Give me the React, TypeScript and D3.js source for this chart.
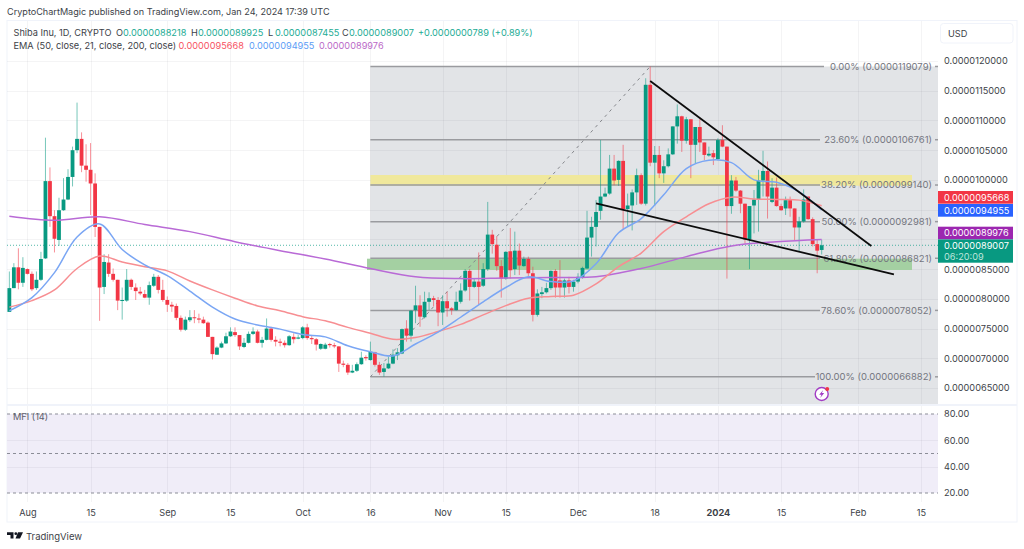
import React, { useEffect, useRef } from "react";
import * as d3 from "d3";

// prices are in units of 0.0000001
const opens = [
  77.8,81.8,85.3,82.7,85.0,84.2,81.8,83.2,86.8,99.8,
  93.9,89.9,94.9,96.7,100.5,105.0,106.9,102.4,101.7,99.4,
  92.1,82.0,86.1,84.2,83.2,79.7,79.7,83.2,81.9,81.2,
  80.8,80.2,82.2,83.7,81.5,79.8,79.0,78.8,76.8,74.8,
  76.4,76.9,76.7,76.5,76.0,73.6,70.6,71.8,72.5,73.7,
  74.4,73.9,71.9,72.6,74.1,74.5,72.6,73.1,75.0,73.1,
  72.8,72.6,72.2,73.6,73.3,73.4,75.2,73.4,73.2,71.6,
  71.6,72.4,72.2,72.0,69.1,68.9,67.6,67.9,69.0,70.2,
  69.7,71.0,68.9,67.7,68.3,69.1,70.5,70.8,75.0,73.8,
  78.1,78.9,76.9,79.5,80.1,79.8,77.7,79.6,78.4,78.1,
  79.5,81.4,84.7,82.0,82.9,82.2,85.0,90.8,89.1,85.5,
  83.4,88.0,85.0,88.1,85.5,86.7,84.3,77.3,80.8,81.1,
  81.8,84.7,83.1,81.9,83.1,82.0,82.9,83.6,85.1,90.3,
  92.1,94.8,97.2,97.7,101.9,100.0,103.2,95.1,95.7,97.9,
  100.8,96.0,116.0,102.9,104.2,101.1,102.3,104.3,109.0,110.7,
  106.6,110.2,105.9,108.9,106.3,104.1,104.5,103.5,106.7,105.6,
  95.6,99.9,98.2,96.0,90.0,95.7,96.7,99.9,101.5,96.3,
  98.7,95.6,95.2,96.6,95.2,92.0,93.0,97.2,93.4,89.2,88.218,
];
const highs = [
  84.6,86.0,88.5,87.0,85.1,84.6,84.6,87.9,107.1,102.1,
  94.9,97.0,100.3,101.8,105.6,113.0,108.0,106.0,106.2,101.1,
  92.1,87.5,87.5,85.1,83.2,81.9,85.0,83.4,82.6,82.0,
  81.5,82.9,84.2,84.0,83.2,80.4,79.5,79.2,77.2,77.0,
  78.1,78.1,77.5,77.0,76.2,73.6,72.0,72.8,74.3,75.2,
  75.2,73.9,73.4,74.5,75.2,74.8,73.6,76.7,75.3,73.7,
  73.3,73.0,73.9,74.2,73.9,75.4,75.8,73.9,73.4,72.5,
  72.6,72.6,72.6,72.0,69.6,69.2,68.9,69.3,71.1,70.5,
  72.8,71.1,69.4,69.2,70.3,71.5,71.7,75.0,76.4,78.1,
  82.2,80.6,81.2,81.1,80.5,80.3,80.6,81.2,78.6,81.2,
  82.6,85.0,85.0,83.4,87.8,86.0,96.3,91.6,90.5,86.5,
  88.0,91.9,91.3,89.3,87.1,87.1,85.4,81.6,82.0,82.7,
  84.8,85.0,86.5,83.4,83.7,83.2,84.3,85.4,94.8,93.8,
  96.6,106.7,98.7,104.2,104.2,103.3,105.9,97.7,98.4,101.9,
  101.1,117.1,119.08,105.7,105.7,103.3,105.3,109.0,112.7,110.8,
  110.6,110.2,108.9,110.3,106.3,105.6,105.0,107.0,109.2,105.6,
  100.8,100.5,98.3,96.0,95.6,98.3,101.7,104.9,103.1,100.3,
  100.4,96.0,97.2,97.2,95.2,93.8,98.4,97.2,93.7,90.0,89.925,
];
const lows = [
  77.8,81.8,81.6,82.0,84.1,81.3,81.5,83.0,86.7,92.1,
  87.8,88.9,94.8,96.6,98.9,104.5,101.3,99.7,94.1,90.4,
  76.3,80.8,83.7,82.9,78.1,76.5,79.5,81.5,79.8,80.6,
  80.1,79.0,82.0,80.9,79.5,77.8,77.8,76.4,74.5,74.6,
  76.1,75.9,75.9,75.8,73.6,69.8,70.6,71.7,72.4,73.6,
  73.6,71.4,71.7,72.5,73.9,72.5,71.8,73.0,72.8,72.0,
  72.0,71.8,72.1,72.5,73.2,73.2,73.1,72.4,71.3,71.4,
  71.5,71.8,71.7,67.7,68.5,67.2,67.5,67.7,68.9,69.6,
  69.6,68.6,67.2,66.9,68.2,69.0,69.7,70.7,72.8,72.8,
  75.9,75.3,76.7,78.1,78.7,75.4,75.6,77.0,77.3,78.0,
  79.2,81.2,79.7,81.8,79.0,82.0,84.7,87.6,84.7,80.2,
  83.2,83.4,84.0,84.0,85.4,83.7,76.2,77.0,80.1,80.9,
  81.5,80.2,80.2,80.2,80.9,81.2,82.6,83.4,85.0,87.1,
  88.8,93.3,97.1,97.5,99.1,99.0,91.7,92.1,91.5,95.8,
  95.8,95.7,102.3,95.7,100.3,99.5,102.1,104.2,106.1,104.7,
  106.1,100.3,102.8,104.7,103.3,103.9,102.5,103.3,105.5,83.4,
  94.3,98.0,94.4,89.3,85.0,91.0,91.3,97.2,93.5,96.1,
  95.5,94.8,94.1,93.8,89.9,87.9,92.8,93.3,88.8,84.3,87.455,
];
const closes = [
  81.8,85.3,82.7,85.2,84.2,81.6,83.2,86.7,99.8,93.9,
  90.1,94.9,96.7,100.5,105.0,106.9,102.4,101.7,99.4,92.1,
  81.9,86.2,84.2,83.2,79.7,79.8,83.2,82.0,81.3,80.9,
  80.2,82.3,83.7,81.5,79.8,79.0,78.7,76.8,74.8,76.5,
  76.9,76.8,76.5,75.9,73.6,70.7,71.8,72.5,73.7,74.5,
  73.9,72.0,72.6,74.1,74.5,72.6,73.1,75.0,73.1,72.8,
  72.6,72.2,73.7,73.2,73.5,75.2,73.4,73.2,72.3,72.4,
  72.3,72.2,72.0,69.1,68.9,67.6,67.9,69.0,70.1,70.0,
  71.1,68.9,67.6,68.3,69.1,70.6,71.0,74.9,73.8,78.0,
  78.9,77.0,79.5,80.1,79.8,77.7,79.6,78.4,78.1,79.5,
  81.4,84.7,82.0,82.9,82.0,85.0,90.8,89.2,85.5,83.4,
  87.9,84.8,88.1,85.6,86.7,84.3,77.3,80.9,81.1,81.8,
  84.7,81.9,81.9,83.1,82.0,82.9,83.7,85.2,90.3,92.1,
  94.6,97.2,97.7,101.9,99.9,103.2,95.1,95.7,97.9,100.8,
  96.0,116.0,102.9,104.2,101.1,102.3,104.3,109.0,110.7,106.6,
  110.2,105.9,108.9,106.3,104.2,104.4,103.8,106.7,105.6,95.6,
  99.9,98.2,96.0,90.0,95.6,96.7,99.9,101.5,97.2,98.7,
  95.6,94.9,96.6,95.2,92.0,93.0,96.7,93.4,89.2,88.1,89.007,
];

const ema50 = [78.6,79.7,81.5,85.1,87.2,86.2,85.4,84.7,83.0,81.5,80.1,78.8,78.0,77.0,76.3,75.2,74.2,73.2,73.5,74.5,75.7,77.3,78.85,80.1,80.4,80.6,82.5,85.4,87.7,91.3,93.8,96.0,97.1,96.8,96.7,96.6,95.668];
const ema21 = [78.0,80.2,84.4,90.4,92.6,88.3,85.7,83.9,81.3,78.6,76.6,75.6,74.9,74.0,73.6,72.1,71.1,70.4,72.4,74.4,76.9,79.5,81.9,83.7,82.9,83.0,85.9,91.1,93.5,97.5,101.9,103.3,102.9,100.0,99.6,98.0,94.955];
const ema200 = [93.9,93.2,93.8,92.5,91.3,89.6,88.1,86.7,85.1,83.7,83.4,83.5,83.6,83.7,85.1,87.1,88.9,89.6,89.976];

const gridPrices = [120, 115, 110, 105, 100, 95, 90, 85, 80, 75, 70, 65];
const priceTicks = [120, 115, 110, 105, 100, 85, 80, 75, 70, 65];
const mfiTicks = [80, 60, 40, 20];
const mfiDashed = [80, 50, 20];

const timeTicks = [
  "2023-08-01", "2023-08-15", "2023-09-01", "2023-09-15", "2023-10-01", "2023-10-16", "2023-11-01",
  "2023-11-15", "2023-12-01", "2023-12-18", "2024-01-01", "2024-01-15", "2024-02-01", "2024-02-15",
].map((d) => new Date(d + "T00:00:00Z"));
const timeLabels = ["Aug", "15", "Sep", "15", "Oct", "16", "Nov", "15", "Dec", "18", "2024", "15", "Feb", "15"];

const fibPct = ["0.00%", "23.60%", "38.20%", "50.00%", "61.80%", "78.60%", "100.00%"];
const fibPrice = [119.079, 106.761, 99.14, 92.981, 86.821, 78.052, 66.882];
const fibLabelPrice = ["0.0000119079", "0.0000106761", "0.0000099140", "0.0000092981", "0.0000086821", "0.0000078052", "0.0000066882"];

const legendOhlc = [
  ["O", "0.0000088218"],
  ["H", "0.0000089925"],
  ["L", "0.0000087455"],
  ["C", "0.0000089007"],
];

const FONT = "Inter, 'Liberation Sans', sans-serif";
const GREEN = "#089981";
const RED = "#f23645";
const TEXT = "#3d3f48";
const SMALL = 9.2;

export default function App() {
  const svgRef = useRef<SVGSVGElement>(null);

  useEffect(() => {
    const svg = d3.select(svgRef.current).attr("width", 1024).attr("height", 549);
    svg.selectAll("*").remove();
    svg.style("position", "absolute").style("left", 0).style("top", 0).style("font-family", FONT);

    const left = 7;
    const plotRight = 938;
    const frameRight = 1017;

    const firstDay = new Date("2023-07-28T00:00:00Z");
    const lastDay = new Date("2024-01-24T00:00:00Z");
    const x = d3.scaleUtc().domain([firstDay, lastDay]).range([9.35, 821.7]);
    const y = d3.scaleLinear().domain([120, 65]).range([61, 388]);
    const yMfi = d3.scaleLinear().domain([80, 20]).range([414, 493]);
    const day = (i: number) => d3.utcDay.offset(firstDay, i);

    const candles = opens.map((o, i) => ({ date: day(i), o, h: highs[i], l: lows[i], c: closes[i] }));

    svg.append("rect").attr("width", 1024).attr("height", 549).attr("fill", "#fff");

    // frame
    svg.append("rect").attr("x", left).attr("y", 20.5).attr("width", frameRight - left).attr("height", 501.5)
      .attr("fill", "none").attr("stroke", "#f0f3fa");

    // fib background
    svg.append("rect").attr("x", x(day(80))).attr("y", y(119.079)).attr("width", plotRight - x(day(80)))
      .attr("height", 404 - y(119.079)).attr("fill", "#e2e4e7");

    // MFI band
    svg.append("rect").attr("x", left).attr("y", yMfi(80)).attr("width", plotRight - left)
      .attr("height", yMfi(20) - yMfi(80)).attr("fill", "#f0edf8");

    // grid
    const grid = svg.append("g").attr("stroke", "rgba(42,46,57,0.05)").attr("stroke-width", 1);
    grid.selectAll("line.t").data(timeTicks).join("line")
      .attr("x1", (d) => Math.round(x(d)) + 0.5).attr("x2", (d) => Math.round(x(d)) + 0.5)
      .attr("y1", 21).attr("y2", 502);
    grid.selectAll("line.p").data(gridPrices).join("line")
      .attr("x1", left).attr("x2", plotRight)
      .attr("y1", (d) => Math.round(y(d)) + 0.5).attr("y2", (d) => Math.round(y(d)) + 0.5);
    grid.selectAll("line.m").data([60, 40]).join("line")
      .attr("x1", left).attr("x2", plotRight)
      .attr("y1", (d) => Math.round(yMfi(d)) + 0.5).attr("y2", (d) => Math.round(yMfi(d)) + 0.5);

    // pane separator
    svg.append("rect").attr("x", left).attr("y", 404).attr("width", frameRight - left).attr("height", 2).attr("fill", "#f0f3fa");

    // MFI levels
    svg.append("g").selectAll("line").data(mfiDashed).join("line")
      .attr("x1", left).attr("x2", plotRight)
      .attr("y1", (d) => yMfi(d)).attr("y2", (d) => yMfi(d))
      .attr("stroke", "#8b8d97").attr("stroke-width", 1).attr("stroke-dasharray", "3 3");
    svg.append("text").attr("x", 13).attr("y", 420).attr("font-size", SMALL).attr("fill", "#5d606b").text("MFI (14)");

    // zones
    svg.append("rect").attr("x", x(day(80))).attr("y", 175).attr("width", 912 - x(day(80))).attr("height", 10.7).attr("fill", "#f0e89c");
    svg.append("rect").attr("x", 367).attr("y", 258.7).attr("width", 912 - 367).attr("height", 11.3).attr("fill", "#a4d0a2");

    // fib lines and labels
    const labelEnd = 932;
    const fibGroup = svg.append("g");
    const fibRows = fibPct.map((pct, i) => ({ pct, price: fibPrice[i], label: `${pct} (${fibLabelPrice[i]})` }));
    fibGroup.selectAll("line.a").data(fibRows).join("line")
      .attr("x1", x(day(80))).attr("x2", (d) => (d.pct === "0.00%" ? 824 : d.pct === "100.00%" ? 815 : 820))
      .attr("y1", (d) => y(d.price)).attr("y2", (d) => y(d.price))
      .attr("stroke", "#9a9b9f").attr("stroke-width", 1.5);
    fibGroup.selectAll("line.b").data(fibRows).join("line")
      .attr("x1", 935).attr("x2", plotRight)
      .attr("y1", (d) => y(d.price)).attr("y2", (d) => y(d.price))
      .attr("stroke", "#9a9b9f").attr("stroke-width", 1.5);
    fibGroup.selectAll("text").data(fibRows).join("text")
      .attr("x", labelEnd).attr("y", (d) => y(d.price) + 3.4).attr("text-anchor", "end")
      .attr("font-size", 9.5).attr("fill", "#74767f").text((d) => d.label);
    svg.append("line")
      .attr("x1", x(day(80))).attr("y1", y(66.882)).attr("x2", x(day(142))).attr("y2", y(119.079))
      .attr("stroke", "#85878c").attr("stroke-width", 1).attr("stroke-dasharray", "3 4");

    // last price line
    svg.append("line").attr("x1", left).attr("x2", plotRight).attr("y1", y(89.007)).attr("y2", y(89.007))
      .attr("stroke", GREEN).attr("stroke-opacity", 0.7).attr("stroke-dasharray", "1 2");

    // candles
    const bars = svg.append("g").selectAll("g").data(candles).join("g");
    bars.append("line")
      .attr("x1", (d) => x(d.date)).attr("x2", (d) => x(d.date))
      .attr("y1", (d) => y(d.h)).attr("y2", (d) => y(d.l))
      .attr("stroke", (d) => (d.c >= d.o ? GREEN : RED)).attr("stroke-opacity", 0.55).attr("stroke-width", 1);
    bars.append("rect")
      .attr("x", (d) => x(d.date) - 1.9).attr("width", 3.8)
      .attr("y", (d) => y(Math.max(d.o, d.c)))
      .attr("height", (d) => Math.max(1, Math.abs(y(d.o) - y(d.c))))
      .attr("fill", (d) => (d.c >= d.o ? GREEN : RED));

    // EMAs
    const emaLine = (vals: number[], step: number) =>
      d3.line<number>().x((_, i) => x(day(i * step))).y((d) => y(d)).curve(d3.curveCatmullRom.alpha(0.5))(vals);
    const drawEma = (vals: number[], step: number, color: string) =>
      svg.append("path").attr("d", emaLine(vals, step)).attr("fill", "none")
        .attr("stroke", color).attr("stroke-width", 1.5);
    drawEma(ema200, 10, "#b96ad6");
    drawEma(ema50, 5, "#f78e92");
    drawEma(ema21, 5, "#7aa6f4");

    // trend lines
    const trend = [
      [day(142), 116.64, day(191), 88.9],
      [day(130), 96.07, day(196), 84.12],
    ] as [Date, number, Date, number][];
    svg.append("g").selectAll("line").data(trend).join("line")
      .attr("x1", (d) => x(d[0])).attr("y1", (d) => y(d[1]))
      .attr("x2", (d) => x(d[2])).attr("y2", (d) => y(d[3]))
      .attr("stroke", "#0c0c0c").attr("stroke-width", 1.8);

    // bolt icon
    const bolt = svg.append("g").attr("transform", `translate(${x(day(180))},394)`);
    bolt.append("circle").attr("r", 6.5).attr("fill", "#fff").attr("stroke", "#a23cc4").attr("stroke-width", 1.4);
    bolt.append("path").attr("d", "M1.5,-4 L-2.5,0.8 L-0.2,0.8 L-1.5,4 L2.5,-1 L0.2,-1 Z").attr("fill", "#a23cc4");
    bolt.append("circle").attr("cx", 5.5).attr("cy", -5).attr("r", 2).attr("fill", RED);

    // price axis
    const priceAxis = d3.axisRight(y).tickValues(priceTicks).tickSize(0).tickPadding(0)
      .tickFormat((d) => (+d / 1e7).toFixed(10));
    const pa = svg.append("g").attr("transform", "translate(944,0)").call(priceAxis);
    pa.select(".domain").remove();
    pa.selectAll("text").attr("font-size", SMALL).attr("font-family", FONT).attr("fill", TEXT);

    const mfiAxis = d3.axisRight(yMfi).tickValues(mfiTicks).tickSize(0).tickPadding(0)
      .tickFormat((d) => (+d).toFixed(2));
    const ma = svg.append("g").attr("transform", "translate(944,0)").call(mfiAxis);
    ma.select(".domain").remove();
    ma.selectAll("text").attr("font-size", SMALL).attr("font-family", FONT).attr("fill", TEXT);

    // price tags (stacked the way the platform pushes them apart)
    const tags = [
      { label: "0.0000095668", color: "#f23645", top: 191, h: 12.7 },
      { label: "0.0000094955", color: "#2962ff", top: 204, h: 12.7 },
      { label: "0.0000089976", color: "#9c27b0", top: 226.7, h: 12.7 },
      { label: "0.0000089007", color: "#089981", top: 239.4, h: 23.3 },
    ];
    svg.append("g").selectAll("rect").data(tags).join("rect")
      .attr("x", plotRight).attr("y", (d) => d.top).attr("width", 75).attr("height", (d) => d.h).attr("fill", (d) => d.color);
    svg.append("g").selectAll("text").data(tags).join("text")
      .attr("x", 944).attr("y", (d) => d.top + 9.7).attr("font-size", SMALL).attr("fill", "#fff").text((d) => d.label);
    svg.append("text").attr("x", 944).attr("y", 259.5).attr("font-size", SMALL).attr("fill", "#bfe6dc").text("06:20:09");

    // USD button
    svg.append("rect").attr("x", 940.5).attr("y", 23.5).attr("width", 72.5).attr("height", 19.5).attr("rx", 3)
      .attr("fill", "#fff").attr("stroke", "#f0f3fa");
    svg.append("text").attr("x", 948).attr("y", 36.5).attr("font-size", SMALL).attr("fill", TEXT).text("USD");

    // time axis
    const timeAxis = d3.axisBottom(x).tickValues(timeTicks).tickSize(0).tickPadding(0)
      .tickFormat((_, i) => timeLabels[i]);
    const ta = svg.append("g").attr("transform", "translate(0,509)").call(timeAxis);
    ta.select(".domain").remove();
    ta.selectAll("text").attr("font-size", SMALL).attr("font-family", FONT).attr("fill", TEXT)
      .attr("font-weight", (_, i) => (timeLabels[i] === "2024" ? 700 : 400));

    // header
    svg.append("text").attr("x", 7).attr("y", 15).attr("font-size", 9.1).attr("fill", TEXT)
      .text("CryptoChartMagic published on TradingView.com, Jan 24, 2024 17:39 UTC");

    // legend
    const legendText = (tx: number, ty: number, s: string, color: string) =>
      svg.append("text").attr("x", tx).attr("y", ty).attr("font-size", SMALL).attr("fill", color).text(s);
    legendText(13.5, 35.5, "Shiba Inu, 1D, CRYPTO", TEXT);
    const ohlcX = [116, 191, 268, 342];
    legendOhlc.forEach(([k, v], i) => {
      legendText(ohlcX[i], 35.5, k, TEXT);
      legendText(ohlcX[i] + 7, 35.5, v, "#22ab94");
    });
    legendText(418, 35.5, "+0.0000000789 (+0.89%)", "#22ab94");
    legendText(13.5, 48.5, "EMA (50, close, 21, close, 200, close)", TEXT);
    legendText(178.5, 48.5, "0.0000095668", "#f7525f");
    legendText(249, 48.5, "0.0000094955", "#5b9cf6");
    legendText(319, 48.5, "0.0000089976", "#ba68c8");

    // TradingView logo
    const logo = svg.append("g").attr("transform", "translate(7,532.3)").attr("fill", "#131722");
    logo.append("path").attr("d", "M0,0 H6.5 V6.2 H3.5 V2.8 H0 Z");
    logo.append("circle").attr("cx", 8.8).attr("cy", 1.4).attr("r", 1.4);
    logo.append("path").attr("d", "M11,0 H16 L13,6.2 H8.5 Z");
    svg.append("text").attr("x", 26).attr("y", 540).attr("font-size", 9.5).attr("fill", TEXT).text("TradingView");
  }, []);

  return <svg ref={svgRef}></svg>;
}
